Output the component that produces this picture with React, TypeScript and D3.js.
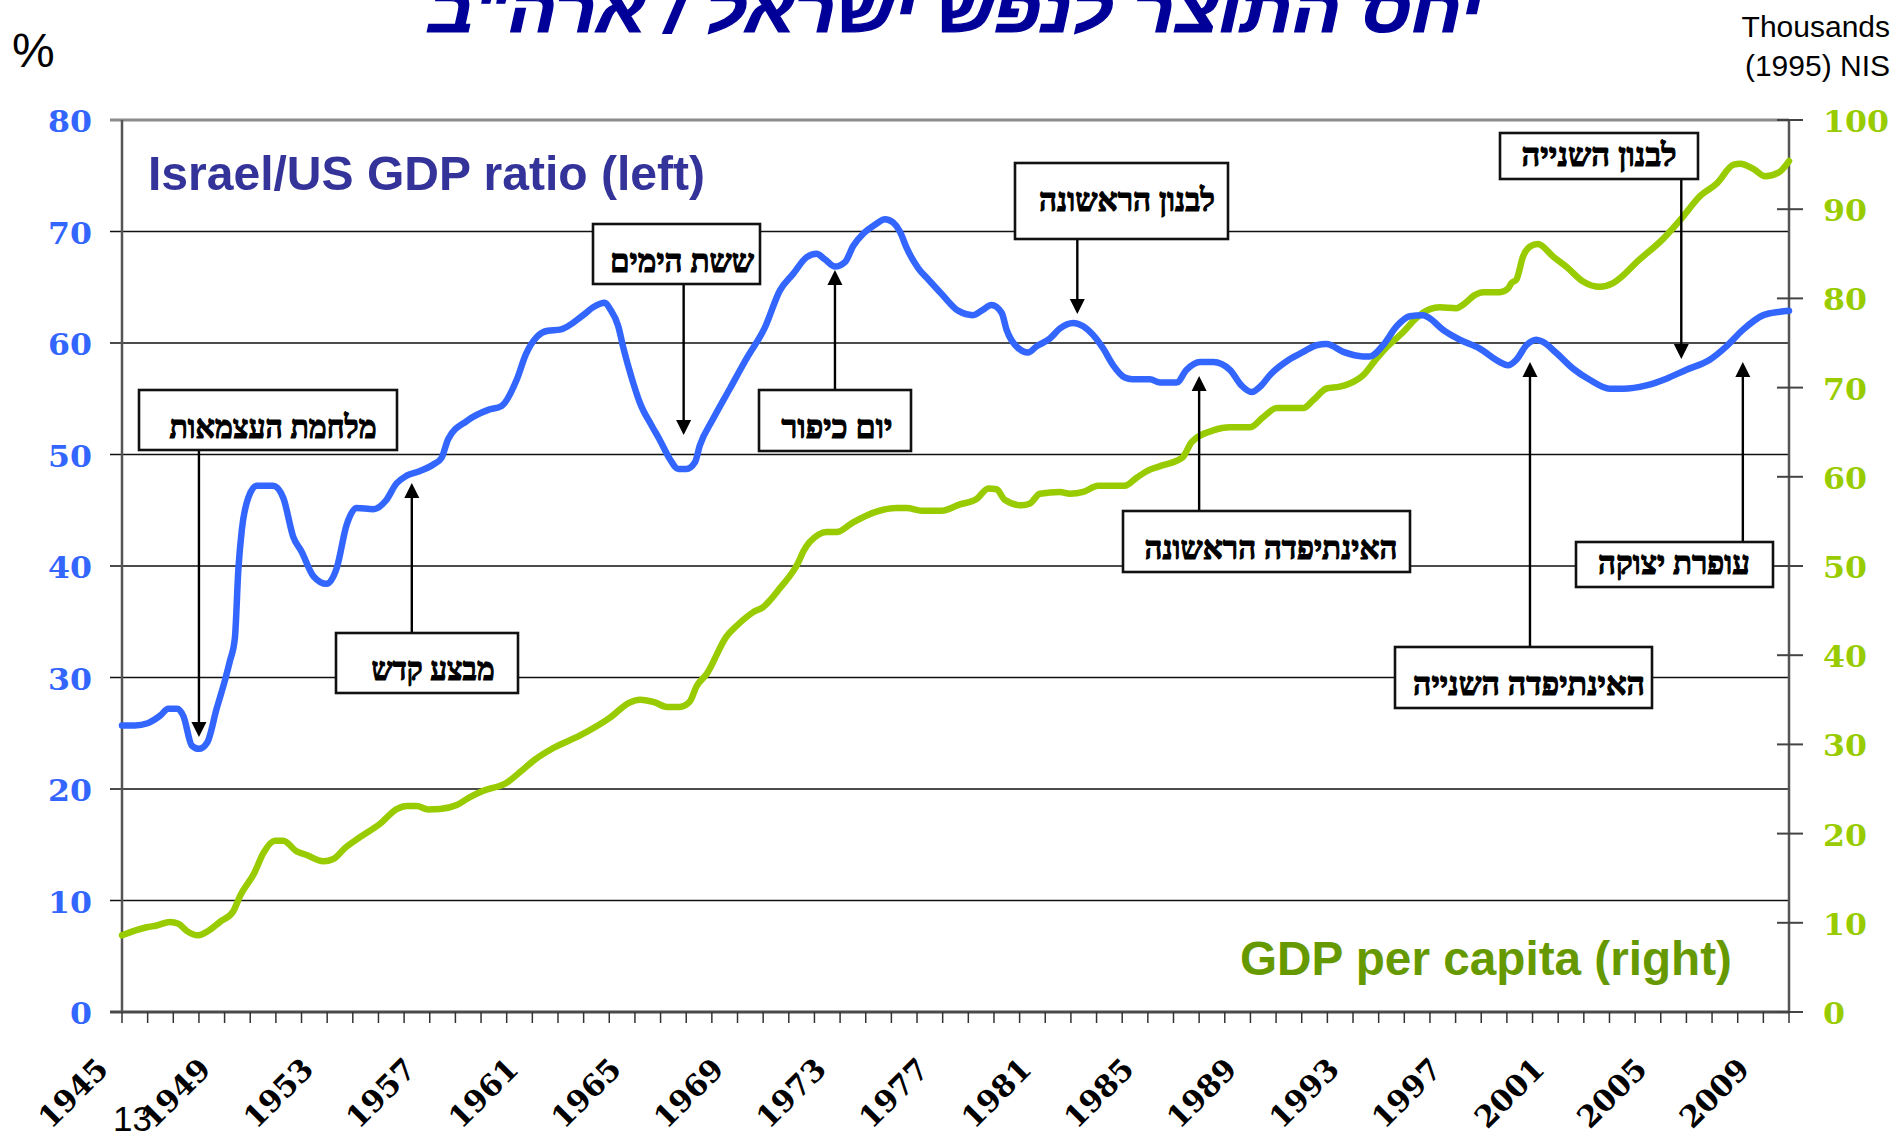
import React from "react";
import * as d3 from "d3";

// ---- data ----
const ratioYears = [
  1945.0, 1945.5, 1946.0, 1946.5, 1946.8, 1947.15, 1947.4, 1947.72, 1948.0, 1948.33,
  1948.69, 1949.02, 1949.21, 1949.4, 1949.54, 1949.67, 1949.92, 1950.25, 1950.9, 1951.29,
  1951.68, 1952.0, 1952.46, 1952.98, 1953.37, 1953.76, 1954.15, 1954.8, 1955.3, 1955.7,
  1956.1, 1956.6, 1957.14, 1957.46, 1957.72, 1958.44, 1959.28, 1959.8, 1960.39, 1960.75,
  1961.2, 1961.6, 1962.08, 1962.98, 1963.37, 1963.83, 1964.03, 1964.35, 1964.55, 1964.87,
  1965.2, 1965.65, 1965.97, 1966.36, 1966.69, 1967.01, 1967.34, 1967.53, 1968.05, 1968.7,
  1969.35, 1970.07, 1970.65, 1971.17, 1971.7, 1972.08, 1972.41, 1972.8, 1973.19, 1973.51,
  1973.9, 1974.36, 1974.75, 1975.07, 1975.33, 1975.6, 1976.05, 1976.44, 1976.96, 1977.6,
  1978.19, 1978.52, 1978.9, 1979.3, 1979.49, 1979.94, 1980.33, 1980.66, 1981.18, 1981.57,
  1982.09, 1982.48, 1982.87, 1983.26, 1983.65, 1984.1, 1984.4, 1985.08, 1985.47, 1986.12,
  1986.51, 1987.03, 1987.55, 1988.2, 1988.65, 1989.04, 1989.43, 1989.75, 1990.5, 1991.06,
  1991.58, 1991.97, 1992.62, 1993.39, 1993.65, 1994.17, 1994.7, 1995.21, 1995.73, 1996.0,
  1996.5, 1997.16, 1997.94, 1998.72, 1999.04, 1999.37, 1999.76, 2000.15, 2000.41, 2000.93,
  2001.58, 2002.23, 2003.01, 2003.53, 2004.44, 2005.22, 2006.0, 2006.91, 2007.56, 2008.21,
  2009.0, 2009.65, 2010.0,
];
const ratioValues = [
  25.7, 25.7, 25.9, 26.6, 27.2, 27.2, 26.5, 23.9, 23.6, 24.2,
  27.2, 29.8, 31.5, 33.5, 39.8, 43.2, 46.1, 47.2, 47.2, 46.1,
  42.6, 41.3, 39.1, 38.4, 39.8, 43.7, 45.2, 45.1, 45.9, 47.4,
  48.1, 48.5, 49.1, 49.7, 51.4, 53.0, 54.0, 54.35, 56.7, 59.0,
  60.6, 61.1, 61.2, 62.5, 63.2, 63.6, 63.05, 61.5, 59.55, 56.9,
  54.6, 52.6, 51.3, 49.6, 48.7, 48.7, 49.3, 50.8, 53.2, 55.9,
  58.6, 61.4, 64.7, 66.2, 67.7, 68.0, 67.5, 66.85, 67.25, 68.7,
  69.8, 70.6, 71.1, 70.8, 70.0, 68.5, 66.7, 65.7, 64.4, 62.9,
  62.5, 62.9, 63.4, 62.7, 61.2, 59.55, 59.15, 59.7, 60.4, 61.3,
  61.8, 61.5, 60.7, 59.5, 58.0, 56.9, 56.75, 56.75, 56.45, 56.45,
  57.6, 58.3, 58.3, 57.6, 56.2, 55.6, 56.2, 57.1, 58.5, 59.2,
  59.8, 59.9, 59.2, 58.8, 58.8, 59.8, 61.5, 62.4, 62.5, 62.2,
  61.2, 60.3, 59.5, 58.3, 58.0, 58.5, 59.8, 60.3, 60.1, 59.1,
  57.7, 56.7, 55.9, 55.9, 56.2, 56.8, 57.6, 58.5, 59.7, 61.2,
  62.5, 62.8, 62.9,
];

const gdpYears = [
  1945.0, 1945.96, 1946.35, 1946.87, 1947.2, 1947.52, 1947.98, 1948.37, 1948.82, 1949.34,
  1949.6, 1950.18, 1950.51, 1950.96, 1951.29, 1951.81, 1952.2, 1952.85, 1953.24, 1953.7,
  1954.28, 1955.06, 1955.71, 1956.1, 1956.49, 1956.94, 1957.4, 1958.05, 1958.57, 1959.09,
  1960.0, 1960.52, 1961.1, 1961.82, 1962.86, 1964.03, 1964.8, 1965.2, 1965.78, 1966.24,
  1966.75, 1967.14, 1967.4, 1967.8, 1968.57, 1968.97, 1969.6, 1970.0, 1970.65, 1971.37,
  1971.56, 1972.15, 1972.47, 1972.86, 1973.51, 1974.42, 1975.2, 1975.6, 1976.18, 1976.96,
  1977.67, 1978.32, 1978.78, 1979.1, 1979.43, 1980.08, 1980.4, 1980.79, 1981.57, 1981.96,
  1982.48, 1983.06, 1984.1, 1984.56, 1985.08, 1985.6, 1986.12, 1986.38, 1986.71, 1987.55,
  1988.2, 1988.98, 1989.5, 1990.02, 1991.06, 1991.45, 1991.97, 1992.49, 1993.14, 1993.4,
  1993.85, 1994.3, 1994.95, 1995.47, 1996.0, 1996.38, 1997.03, 1997.29, 1997.76, 1998.07,
  1998.72, 1999.04, 1999.17, 1999.37, 1999.63, 1999.89, 2000.21, 2000.8, 2001.32, 2001.97,
  2002.62, 2003.14, 2003.4, 2004.07, 2005.1, 2005.76, 2006.54, 2007.19, 2007.84, 2008.1,
  2008.62, 2009.07, 2009.59, 2010.0,
];
const gdpValues = [
  8.6, 9.5, 9.7, 10.1, 9.9, 9.1, 8.6, 9.1, 10.1, 11.3,
  13.0, 15.7, 17.8, 19.2, 19.2, 18.0, 17.6, 16.9, 17.15, 18.4,
  19.6, 21.1, 22.75, 23.1, 23.1, 22.7, 22.75, 23.2, 24.1, 24.8,
  25.7, 26.9, 28.3, 29.6, 31.0, 33.0, 34.7, 35.0, 34.7, 34.2,
  34.2, 34.8, 36.5, 37.9, 42.1, 43.3, 44.8, 45.4, 47.5, 50.4,
  51.6, 53.5, 53.8, 53.8, 54.9, 56.1, 56.5, 56.5, 56.2, 56.2,
  56.9, 57.5, 58.7, 58.6, 57.4, 56.8, 57.0, 58.1, 58.3, 58.1,
  58.3, 59.0, 59.0, 59.9, 60.8, 61.3, 61.8, 62.25, 63.9, 65.2,
  65.55, 65.55, 66.7, 67.7, 67.7, 68.6, 69.9, 70.1, 70.85, 71.4,
  73.0, 74.5, 76.2, 77.8, 78.8, 79.0, 78.9, 79.3, 80.4, 80.7,
  80.7, 81.1, 81.7, 82.1, 84.7, 85.8, 86.1, 84.7, 83.55, 81.9,
  81.3, 81.7, 82.25, 84.1, 86.7, 88.8, 91.5, 92.9, 95.0, 95.1,
  94.5, 93.7, 94.1, 95.4,
];

const leftTicks = [0, 10, 20, 30, 40, 50, 60, 70, 80];
const rightTicks = [0, 10, 20, 30, 40, 50, 60, 70, 80, 90, 100];
const yearLabels = [1945, 1949, 1953, 1957, 1961, 1965, 1969, 1973, 1977, 1981, 1985, 1989, 1993, 1997, 2001, 2005, 2009];

const events = [
  { label: "מלחמת העצמאות", year: 1948.0 },
  { label: "מבצע קדש", year: 1956.3 },
  { label: "ששת הימים", year: 1966.9 },
  { label: "יום כיפור", year: 1972.8 },
  { label: "לבנון הראשונה", year: 1982.25 },
  { label: "האינתיפדה הראשונה", year: 1987.0 },
  { label: "לבנון השנייה", year: 2005.8 },
  { label: "עופרת יצוקה", year: 2008.2 },
  { label: "האינתיפדה השנייה", year: 1999.9 },
];

// annotation layout in pixels: box x0,y0,x1,y1, arrow tip y, text centre/width/baseline
const eventLayout = [
  { box: [139, 390, 397, 450], tipY: 737, tx: 273, tw: 207, ty: 438 },
  { box: [336, 633, 518, 693], tipY: 483, tx: 433, tw: 123, ty: 680 },
  { box: [593, 224, 760, 284], tipY: 435, tx: 682, tw: 144, ty: 272 },
  { box: [759, 390, 911, 451], tipY: 270, tx: 837, tw: 111, ty: 438 },
  { box: [1015, 163, 1228, 239], tipY: 314, tx: 1127, tw: 176, ty: 211 },
  { box: [1123, 511, 1410, 572], tipY: 376, tx: 1271, tw: 253, ty: 559 },
  { box: [1500, 133, 1698, 179], tipY: 359, tx: 1599, tw: 155, ty: 166 },
  { box: [1576, 542, 1773, 587], tipY: 362, tx: 1674, tw: 152, ty: 574 },
  { box: [1395, 647, 1652, 708], tipY: 362, tx: 1529, tw: 232, ty: 695 },
];

const W = 1894;
const H = 1136;
const left = 122;
const right = 1789;
const top = 120;
const bottom = 1012;

const BLUE = "#3366ff";
const GREEN = "#99cc00";
const numFont = "'DejaVu Serif', serif";
const sansFont = "'Liberation Sans', Arial, sans-serif";
const hebFont = "'Liberation Serif', 'DejaVu Serif', 'DejaVu Sans', serif";

export default function App() {
  const x = d3.scaleLinear().domain([1945, 2010]).range([left, right]);
  const yL = d3.scaleLinear().domain([0, 80]).range([bottom, top]);
  const yR = d3.scaleLinear().domain([0, 100]).range([bottom, top]);

  const ratioLine = d3
    .line<number>()
    .x((d, i) => x(ratioYears[i]))
    .y((d) => yL(d))
    .curve(d3.curveMonotoneX);
  const gdpLine = d3
    .line<number>()
    .x((d, i) => x(gdpYears[i]))
    .y((d) => yR(d))
    .curve(d3.curveMonotoneX);

  const allYears = d3.range(1945, 2011);

  return (
    <svg
      width={W}
      height={H}
      viewBox={`0 0 ${W} ${H}`}
      style={{ position: "absolute", left: 0, top: 0, background: "#fff" }}
    >
      <rect x={0} y={0} width={W} height={H} fill="#fff" />

      {/* title, cut at the top edge like the original slide */}
      <text
        x={955}
        y={32}
        textAnchor="middle"
        fontFamily="'Liberation Sans', 'DejaVu Sans', sans-serif"
        fontWeight="bold"
        fontStyle="italic"
        fontSize={64}
        fill="#000099"
        stroke="#000099"
        strokeWidth={1.2}
        textLength={1054}
        lengthAdjust="spacingAndGlyphs"
      >
        יחס התוצר לנפש ישראל / ארה"ב
      </text>

      <text x={12} y={67} fontFamily={sansFont} fontSize={48} fill="#000">
        %
      </text>
      <text x={1890} y={37} textAnchor="end" fontFamily={sansFont} fontSize={30} fill="#000">
        Thousands
      </text>
      <text x={1890} y={76} textAnchor="end" fontFamily={sansFont} fontSize={30} fill="#000">
        (1995) NIS
      </text>

      {/* gridlines */}
      {leftTicks.map((t) => (
        <line
          key={"g" + t}
          x1={left - 12}
          x2={right}
          y1={yL(t)}
          y2={yL(t)}
          stroke={t === 80 ? "#8c8c8c" : t === 0 ? "#4a4a4a" : "#111"}
          strokeWidth={t === 80 ? 3 : t === 0 ? 3 : 1.5}
        />
      ))}

      {/* axes */}
      <line x1={left} x2={left} y1={top} y2={bottom} stroke="#555" strokeWidth={2.5} />
      <line x1={right} x2={right} y1={top} y2={bottom} stroke="#555" strokeWidth={2.5} />
      {rightTicks.map((t) => (
        <line key={"rt" + t} x1={right - 12} x2={right + 14} y1={yR(t)} y2={yR(t)} stroke="#444" strokeWidth={2} />
      ))}
      {allYears.map((yr) => (
        <line key={"xt" + yr} x1={x(yr)} x2={x(yr)} y1={bottom} y2={bottom + 11} stroke="#333" strokeWidth={1.5} />
      ))}

      {/* tick labels */}
      {leftTicks.map((t) => {
        const s = String(t);
        return (
          <text
            key={"ll" + t}
            x={92}
            y={yL(t) + 12}
            textAnchor="end"
            fontFamily={numFont}
            fontWeight="bold"
            fontSize={29}
            fill={BLUE}
            textLength={22 * s.length}
            lengthAdjust="spacingAndGlyphs"
          >
            {s}
          </text>
        );
      })}
      {rightTicks.map((t) => {
        const s = String(t);
        return (
          <text
            key={"rl" + t}
            x={1823}
            y={yR(t) + 12}
            fontFamily={numFont}
            fontWeight="bold"
            fontSize={29}
            fill={GREEN}
            textLength={22 * s.length}
            lengthAdjust="spacingAndGlyphs"
          >
            {s}
          </text>
        );
      })}
      {yearLabels.map((yr) => (
        <text
          key={"yl" + yr}
          transform={`translate(${x(yr) - 12},${1071}) rotate(-45)`}
          textAnchor="end"
          fontFamily={numFont}
          fontWeight="bold"
          fontSize={30}
          fill="#000"
        >
          {yr}
        </text>
      ))}
      <text x={113} y={1131} fontFamily={sansFont} fontSize={35} fill="#000">
        13
      </text>

      {/* series */}
      <path d={gdpLine(gdpValues) || ""} fill="none" stroke={GREEN} strokeWidth={6.5} strokeLinejoin="round" strokeLinecap="round" />
      <path d={ratioLine(ratioValues) || ""} fill="none" stroke={BLUE} strokeWidth={6.5} strokeLinejoin="round" strokeLinecap="round" />

      {/* series labels */}
      <text x={148} y={190} fontFamily={sansFont} fontWeight="bold" fontSize={48} fill="#333399" textLength={557} lengthAdjust="spacingAndGlyphs">
        Israel/US GDP ratio (left)
      </text>
      <text x={1240} y={975} fontFamily={sansFont} fontWeight="bold" fontSize={48} fill="#669900" textLength={492} lengthAdjust="spacingAndGlyphs">
        GDP per capita (right)
      </text>

      {/* event annotations */}
      {events.map((ev, i) => {
        const L = eventLayout[i];
        const [bx0, by0, bx1, by1] = L.box;
        const ax = x(ev.year);
        const down = L.tipY > by1;
        const start = down ? by1 : by0;
        const headBase = down ? L.tipY - 15 : L.tipY + 15;
        return (
          <g key={"ev" + i}>
            <line x1={ax} x2={ax} y1={start} y2={headBase} stroke="#000" strokeWidth={2.4} />
            <path d={`M${ax - 7.5},${headBase} L${ax + 7.5},${headBase} L${ax},${L.tipY} Z`} fill="#000" />
            <rect x={bx0} y={by0} width={bx1 - bx0} height={by1 - by0} fill="#fff" stroke="#111" strokeWidth={2.6} />
            <text
              x={L.tx}
              y={L.ty}
              textAnchor="middle"
              fontFamily={hebFont}
              fontWeight="bold"
              fontSize={32}
              fill="#000"
              stroke="#000"
              strokeWidth={1.1}
              textLength={L.tw}
              lengthAdjust="spacingAndGlyphs"
            >
              {ev.label}
            </text>
          </g>
        );
      })}
    </svg>
  );
}
